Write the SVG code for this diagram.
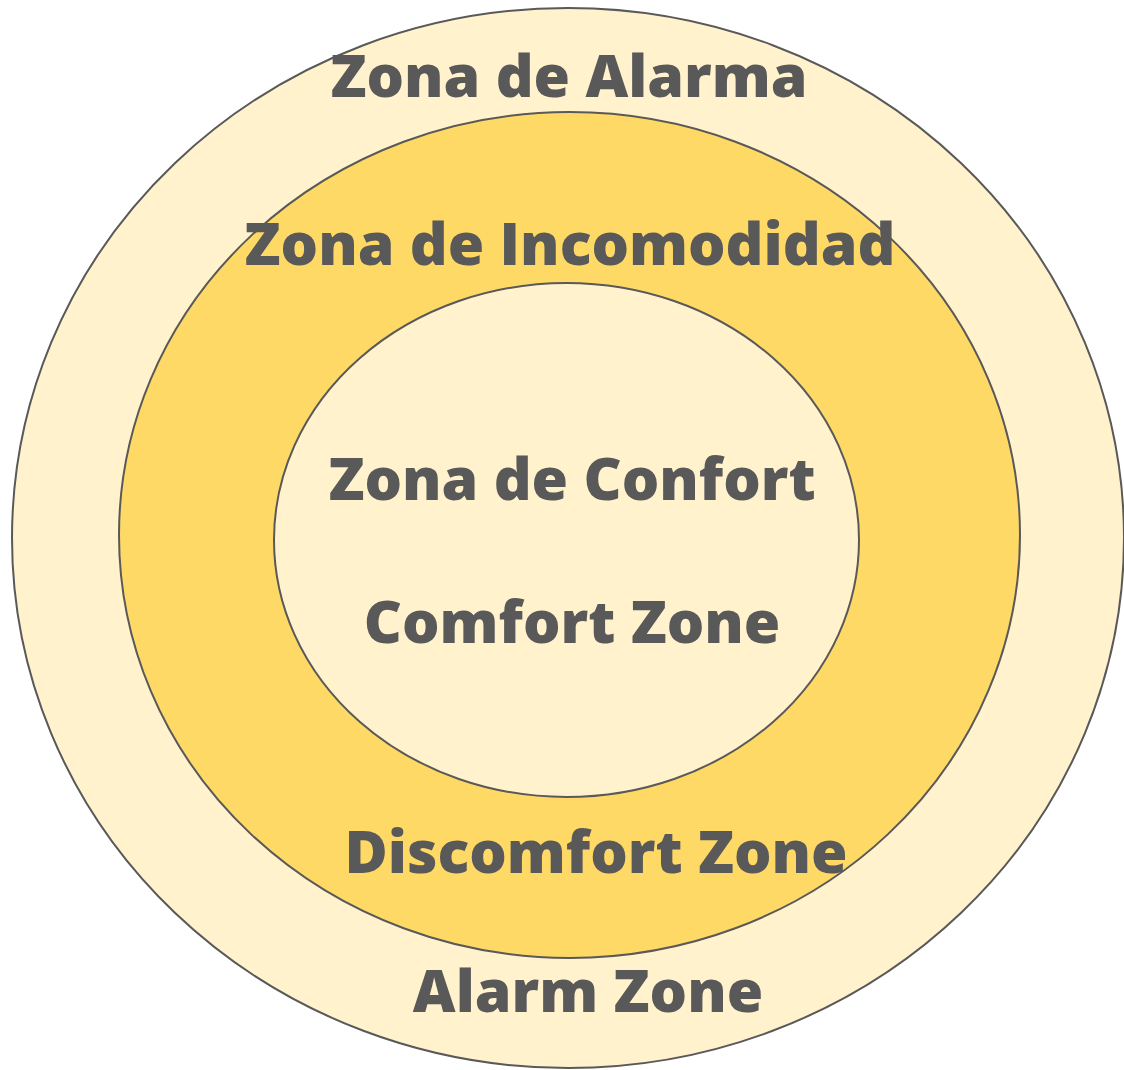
<svg xmlns="http://www.w3.org/2000/svg" width="1124" height="1070" viewBox="0 0 1124 1070">
<style>
.ring{stroke:#595959;stroke-width:2}
.lbl{font-family:"Open Sans","Noto Sans","Liberation Sans",sans-serif;font-weight:800;font-size:59px;fill:#595959;text-anchor:middle}
</style>
<rect width="1124" height="1070" fill="#ffffff"/>
<g id="alarm">
<ellipse class="ring" cx="568" cy="538" rx="556" ry="530" fill="#FFF2CC"/>
</g>
<g id="discomfort">
<ellipse class="ring" cx="569.5" cy="535" rx="450.5" ry="423" fill="#FFD966"/>
</g>
<g id="comfort">
<ellipse class="ring" cx="566.5" cy="540" rx="292.5" ry="257" fill="#FFF2CC"/>
</g>
<g id="labels">
<text class="lbl" x="569" y="97">Zona de Alarma</text>
<text class="lbl" x="570" y="265">Zona de Incomodidad</text>
<text class="lbl" x="572" y="500">Zona de Confort</text>
<text class="lbl" x="572" y="643">Comfort Zone</text>
<text class="lbl" x="596" y="873">Discomfort Zone</text>
<text class="lbl" x="588" y="1012">Alarm Zone</text>
</g>
</svg>
